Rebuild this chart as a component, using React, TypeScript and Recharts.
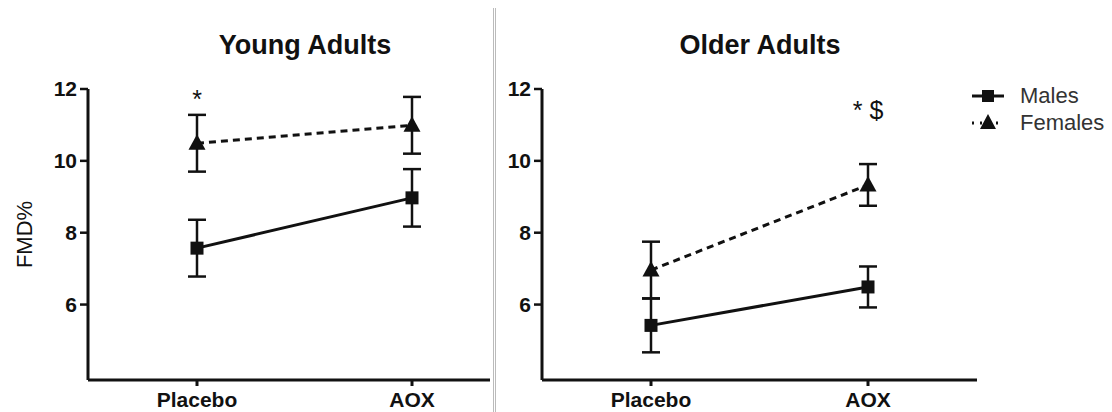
import React from "react";
import {
  ErrorBar,
  Line,
  LineChart,
  ReferenceDot,
  XAxis,
  YAxis,
} from "recharts";

const categories = ["Placebo", "AOX"];

const youngMales = [7.57, 8.97];
const youngMalesErr = [0.79, 0.8];
const youngFemales = [10.49, 10.99];
const youngFemalesErr = [0.79, 0.79];

const olderMales = [5.42, 6.49];
const olderMalesErr = [0.75, 0.57];
const olderFemales = [6.96, 9.33];
const olderFemalesErr = [0.79, 0.58];

const yTicks = [6, 8, 10, 12];

const FONT = "'Liberation Sans', Arial, sans-serif";
const INK = "#111";

const buildRows = (
  males: number[],
  malesErr: number[],
  females: number[],
  femalesErr: number[]
) =>
  categories.map((c, i) => ({
    group: c,
    males: males[i],
    malesErr: malesErr[i],
    females: females[i],
    femalesErr: femalesErr[i],
  }));

const youngData = buildRows(youngMales, youngMalesErr, youngFemales, youngFemalesErr);
const olderData = buildRows(olderMales, olderMalesErr, olderFemales, olderFemalesErr);

const SquareDot = (props: any) => {
  const { cx, cy, index } = props;
  if (cx == null || cy == null) return <g key={`s-${index}`} />;
  return <rect key={`s-${index}`} x={cx - 6.5} y={cy - 6.5} width={13} height={13} fill={INK} />;
};

const TriangleDot = (props: any) => {
  const { cx, cy, index } = props;
  if (cx == null || cy == null) return <g key={`t-${index}`} />;
  return (
    <polygon
      key={`t-${index}`}
      points={`${cx},${cy - 9} ${cx + 8.5},${cy + 6.5} ${cx - 8.5},${cy + 6.5}`}
      fill={INK}
    />
  );
};

const axisTick = { fill: INK, fontSize: 21, fontWeight: 700, fontFamily: FONT };

interface PanelProps {
  data: any[];
  width: number;
  margin: { top: number; right: number; bottom: number; left: number };
  padding: { left: number; right: number };
  yLabel?: string;
  marks: { x: string; y: number; text: string }[];
}

const Panel = ({ data, width, margin, padding, yLabel, marks }: PanelProps) => (
  <LineChart width={width} height={412} data={data} margin={margin}>
    <XAxis
      dataKey="group"
      padding={padding}
      height={30}
      axisLine={{ stroke: INK, strokeWidth: 3 }}
      tickLine={{ stroke: INK, strokeWidth: 3 }}
      tickSize={6}
      tickMargin={6}
      tick={axisTick}
    />
    <YAxis
      width={50}
      domain={[3.9, 12]}
      ticks={yTicks}
      allowDataOverflow
      axisLine={{ stroke: INK, strokeWidth: 3 }}
      tickLine={{ stroke: INK, strokeWidth: 2.5 }}
      tickSize={8}
      tickMargin={3}
      tick={axisTick}
      label={
        yLabel
          ? {
              value: yLabel,
              angle: -90,
              position: "insideLeft",
              offset: -14,
              style: { textAnchor: "middle", fill: INK, fontSize: 22, fontFamily: FONT },
            }
          : undefined
      }
    />
    <Line
      dataKey="males"
      stroke={INK}
      strokeWidth={3}
      dot={SquareDot}
      activeDot={false}
      isAnimationActive={false}
    >
      <ErrorBar dataKey="malesErr" direction="y" width={9} stroke={INK} strokeWidth={2.5} />
    </Line>
    <Line
      dataKey="females"
      stroke={INK}
      strokeWidth={3}
      strokeDasharray="7 5"
      dot={TriangleDot}
      activeDot={false}
      isAnimationActive={false}
    >
      <ErrorBar dataKey="femalesErr" direction="y" width={9} stroke={INK} strokeWidth={2.5} />
    </Line>
    {marks.map((m) => (
      <ReferenceDot
        key={m.text + m.x}
        x={m.x}
        y={m.y}
        r={0}
        fill="none"
        stroke="none"
        label={{ value: m.text, position: "center", fill: INK, fontSize: 25, fontFamily: FONT }}
      />
    ))}
  </LineChart>
);

const LegendRow = ({ label, dashed }: { label: string; dashed?: boolean }) => (
  <div style={{ display: "flex", alignItems: "center", height: 27 }}>
    <svg width={36} height={20} style={{ marginRight: 13 }}>
      <line
        x1={1}
        y1={10}
        x2={33}
        y2={10}
        stroke={INK}
        strokeWidth={3}
        strokeDasharray={dashed ? "2 6" : undefined}
      />
      {dashed ? (
        <polygon points="17,1 25,16 9,16" fill={INK} />
      ) : (
        <rect x={11} y={4} width={12} height={12} fill={INK} />
      )}
    </svg>
    <span style={{ fontSize: 22, color: "#333", fontFamily: FONT }}>{label}</span>
  </div>
);

export default function App() {
  return (
    <div
      style={{
        position: "absolute",
        left: 0,
        top: 0,
        width: 1112,
        height: 412,
        background: "#fff",
        overflow: "hidden",
        fontFamily: FONT,
      }}
    >
      <div style={{ position: "absolute", left: 0, top: 0 }}>
        <Panel
          data={youngData}
          width={495}
          margin={{ top: 89, right: 5, bottom: 2, left: 38 }}
          padding={{ left: 109, right: 78 }}
          yLabel="FMD%"
          marks={[{ x: "Placebo", y: 11.72, text: "*" }]}
        />
      </div>
      <div style={{ position: "absolute", left: 480, top: 0 }}>
        <Panel
          data={olderData}
          width={632}
          margin={{ top: 89, right: 135, bottom: 2, left: 12 }}
          padding={{ left: 109, right: 109 }}
          marks={[{ x: "AOX", y: 11.42, text: "* $" }]}
        />
      </div>
      <div
        style={{
          position: "absolute",
          left: 305 - 150,
          width: 300,
          top: 30,
          textAlign: "center",
          fontSize: 27,
          fontWeight: 700,
          color: INK,
        }}
      >
        Young Adults
      </div>
      <div
        style={{
          position: "absolute",
          left: 760 - 150,
          width: 300,
          top: 30,
          textAlign: "center",
          fontSize: 27,
          fontWeight: 700,
          color: INK,
        }}
      >
        Older Adults
      </div>
      <div
        style={{
          position: "absolute",
          left: 493,
          top: 8,
          width: 1,
          height: 404,
          borderLeft: "1px solid #bbb",
          borderRight: "1px solid #bbb",
        }}
      />
      <div style={{ position: "absolute", left: 971, top: 82 }}>
        <LegendRow label="Males" />
        <LegendRow label="Females" dashed />
      </div>
    </div>
  );
}
